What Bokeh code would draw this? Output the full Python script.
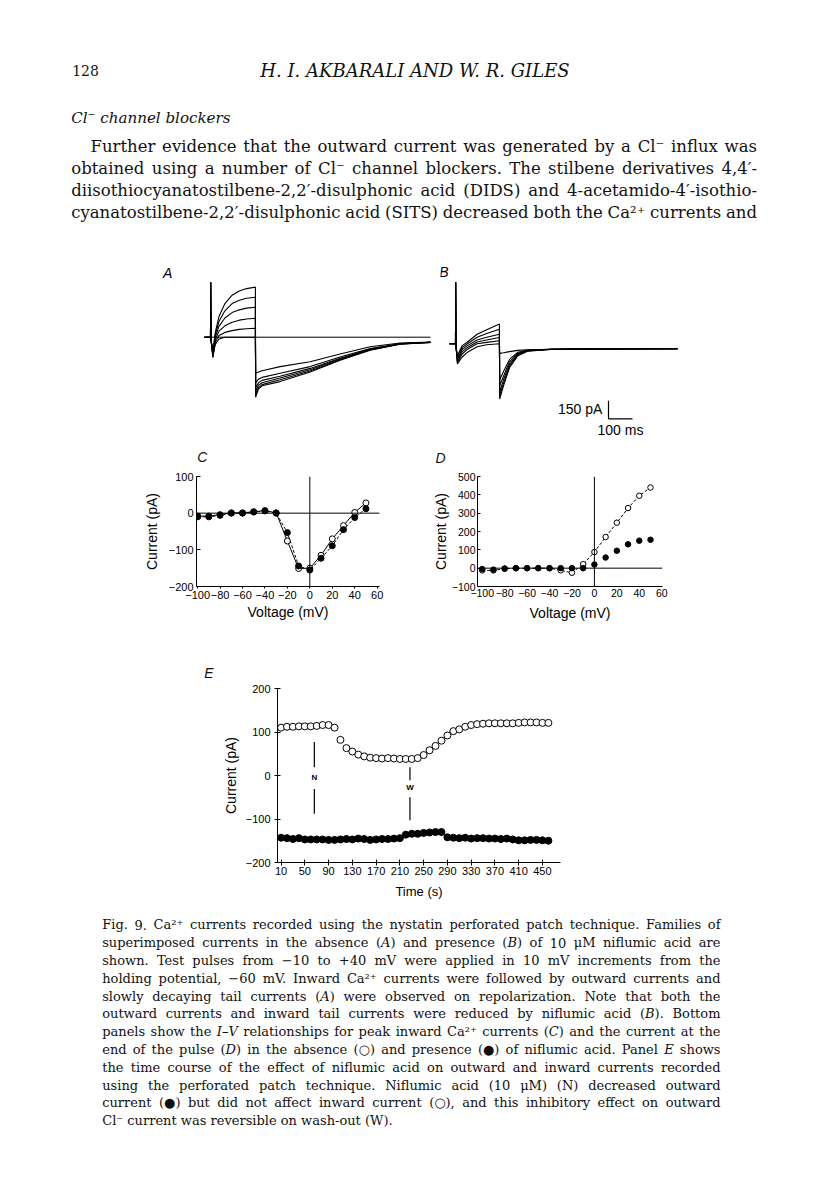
import os
import glob
from bokeh.plotting import figure
from bokeh.layouts import column, row
from bokeh.models import (Range1d, ColumnDataSource, Span, FixedTicker,
                          CustomJSTickFormatter)
from bokeh.core.properties import value
from bokeh.embed import file_html
from bokeh.resources import INLINE

# ============================ DATA ============================
# Panel A (control) traces: time from pulse onset (ms), current (pA); test pulses -10..+40 mV
A_TIME = [-25, 0, 0.5, 2, 10, 20, 35, 60, 90, 120, 150, 187, 188, 200, 215, 290, 415, 540, 665, 790, 917]
A_M10 = [0, 0, 458, -20, -150, -60, -15, 0, 0, 0, 0, 0, -300, -290, -280, -245, -205, -140, -80, -48, -40]
A_0 = [0, 0, 458, -20, -170, -40, 15, 40, 55, 65, 70, 75, -380, -350, -335, -300, -245, -165, -95, -52, -42]
A_P10 = [0, 0, 458, -20, -165, -20, 50, 95, 125, 142, 152, 158, -420, -380, -360, -325, -260, -175, -100, -55, -42]
A_P20 = [0, 0, 458, -20, -150, 0, 90, 160, 205, 228, 242, 250, -450, -400, -380, -340, -272, -182, -104, -56, -43]
A_P30 = [0, 0, 458, -20, -130, 20, 130, 220, 280, 308, 325, 333, -475, -420, -395, -355, -282, -188, -106, -57, -43]
A_P40 = [0, 0, 458, -20, -110, 40, 170, 280, 350, 385, 405, 417, -500, -430, -405, -370, -290, -192, -108, -58, -44]

# Panel B (10 uM niflumic acid) traces
B_TIME = [-25, 0, 0.5, 2, 8, 28, 50, 90, 130, 183, 184, 200, 225, 260, 300, 400, 600, 925]
B_M10 = [0, 0, 513, -20, -167, -110, -70, -25, -8, 0, -80, -75, -65, -55, -50, -45, -42, -40]
B_0 = [0, 0, 513, -20, -155, -85, -45, 0, 12, 25, -300, -230, -130, -70, -52, -45, -42, -40]
B_P10 = [0, 0, 513, -20, -145, -65, -30, 15, 32, 53, -350, -270, -150, -78, -55, -45, -42, -40]
B_P20 = [0, 0, 513, -20, -130, -45, -15, 32, 55, 80, -400, -300, -170, -85, -57, -46, -42, -40]
B_P30 = [0, 0, 513, -20, -115, -30, 0, 55, 85, 122, -430, -330, -185, -92, -60, -46, -42, -40]
B_P40 = [0, 0, 513, -20, -100, -15, 15, 80, 118, 164, -460, -350, -200, -100, -62, -47, -42, -40]

# Scale bar (150 pA, 100 ms) in panel B units
SCALE_T0, SCALE_Y0, SCALE_DT, SCALE_DY = 637.5, -625, 100, 150

# Panels C and D: voltage (mV)
VOLTAGE = [-100, -90, -80, -70, -60, -50, -40, -30, -20, -10, 0, 10, 20, 30, 40, 50]
C_ABSENCE = [-8, -8, -4, 1, 1, 4, 7, 1, -76, -151, -150, -115, -70, -34, 2, 28]
C_PRESENCE = [-10, -10, -6, 0, 0, 3, 6, 0, -53, -144, -155, -123, -89, -45, -12, 12]
D_ABSENCE = [-12, -12, -3, 0, 0, 0, 0, -12, -25, 22, 88, 170, 248, 328, 395, 440]
D_PRESENCE = [-5, -8, -2, 0, 0, 0, 0, 0, 0, 0, 20, 58, 95, 130, 150, 155]
C_XTICKS = [-100, -80, -60, -40, -20, 0, 20, 40, 60]
C_YTICKS = [-200, -100, 0, 100]
D_YTICKS = [-100, 0, 100, 200, 300, 400, 500]

# Panel E: time course (s)
E_TIME = [10, 20, 30, 40, 50, 60, 70, 80, 90, 100, 110, 120, 130, 140, 150, 160, 170, 180,
          190, 200, 210, 220, 230, 240, 250, 260, 270, 280, 290, 300, 310, 320, 330, 340,
          350, 360, 370, 380, 390, 400, 410, 420, 430, 440, 450, 460]
E_OUTWARD = [110, 112, 112, 113, 113, 113, 114, 116, 116, 110, 82, 63, 55, 48, 44, 41, 40, 39,
             40, 39, 38, 38, 38, 40, 47, 58, 68, 80, 92, 102, 106, 112, 116, 118,
             119, 120, 120, 120, 120, 120, 121, 122, 122, 122, 121, 121]
E_INWARD = [-143, -144, -146, -144, -147, -147, -147, -147, -148, -148, -147, -146, -147, -145,
            -146, -148, -147, -146, -146, -145, -144, -136, -134, -134, -132, -131, -130, -130,
            -142, -143, -144, -143, -145, -144, -144, -145, -145, -146, -145, -147, -149, -149,
            -148, -148, -149, -150]
E_XTICKS = [10, 50, 90, 130, 170, 210, 250, 290, 330, 370, 410, 450]
E_YTICKS = [-200, -100, 0, 100, 200]
N_TIME, W_TIME = 66, 227

# ============================ TEXT ============================
PAGE_NUMBER = "128"
RUNNING_HEAD = "H. I. AKBARALI AND W. R. GILES"
SECTION_HEAD = "Cl\u207b channel blockers"
PARAGRAPH = [
    "Further evidence that the outward current was generated by a Cl\u207b influx was",
    "obtained using a number of Cl\u207b channel blockers. The stilbene derivatives 4,4\u2032-",
    "diisothiocyanatostilbene-2,2\u2032-disulphonic acid (DIDS) and 4-acetamido-4\u2032-isothio-",
    "cyanatostilbene-2,2\u2032-disulphonic acid (SITS) decreased both the Ca\u00b2\u207a currents and",
]
CAPTION = [
    "Fig. 9. Ca\u00b2\u207a currents recorded using the nystatin perforated patch technique. Families of",
    "superimposed currents in the absence (*A*) and presence (*B*) of 10 \u03bcM niflumic acid are",
    "shown. Test pulses from \u221210 to +40 mV were applied in 10 mV increments from the",
    "holding potential, \u221260 mV. Inward Ca\u00b2\u207a currents were followed by outward currents and",
    "slowly decaying tail currents (*A*) were observed on repolarization. Note that both the",
    "outward currents and inward tail currents were reduced by niflumic acid (*B*). Bottom",
    "panels show the *I\u2013V* relationships for peak inward Ca\u00b2\u207a currents (*C*) and the current at the",
    "end of the pulse (*D*) in the absence (\u25cb) and presence (\u25cf) of niflumic acid. Panel *E* shows",
    "the time course of the effect of niflumic acid on outward and inward currents recorded",
    "using the perforated patch technique. Niflumic acid (10 \u03bcM) (N) decreased outward",
    "current (\u25cf) but did not affect inward current (\u25cb), and this inhibitory effect on outward",
    "Cl\u207b current was reversible on wash-out (W).",
]

SERIF = "DejaVu Serif"
SANS = "Liberation Sans"
INK = "#111111"

# ------------------------ text measuring ------------------------
def _find(name):
    for base in ("/usr/share/fonts", "/usr/local/share/fonts",
                 os.path.expanduser("~/.fonts"), os.path.expanduser("~/.local/share/fonts")):
        if os.path.isdir(base):
            hits = glob.glob(os.path.join(base, "**", name), recursive=True)
            if hits:
                return hits[0]
    return None

_FONTS = {}
try:
    from PIL import ImageFont
    for key, fname in (("n", "DejaVuSerif.ttf"), ("i", "DejaVuSerif-Italic.ttf")):
        path = _find(fname)
        if path:
            _FONTS[key] = ImageFont.truetype(path, 100)
except Exception:
    pass


def tw(s, size, italic=False):
    f = _FONTS.get("i" if italic else "n")
    if f is not None:
        try:
            return f.getlength(s) * size / 100.0
        except Exception:
            pass
    return len(s) * 0.56 * size


def parse_word(w):
    parts = w.split("*")
    return [(p, i % 2 == 1) for i, p in enumerate(parts) if p]


def fit_size(lines, width, size, indent=0.0, min_gap_em=0.25):
    s = size
    while s > 8:
        ok = True
        for k, line in enumerate(lines):
            words = [parse_word(w) for w in line.split(" ")]
            total = sum(sum(tw(t, s, it) for t, it in segs) for segs in words)
            if total + (len(words) - 1) * min_gap_em * s > width - (indent if k == 0 else 0):
                ok = False
                break
        if ok:
            return s
        s -= 0.25
    return s


def set_block(lines, x_left, x_right, y0, dy, size, indent=0.0, justify_last=False):
    out = []
    for k, line in enumerate(lines):
        words = [parse_word(w) for w in line.split(" ")]
        widths = [sum(tw(t, size, it) for t, it in segs) for segs in words]
        xl = x_left + (indent if k == 0 else 0)
        last = (k == len(lines) - 1) and not justify_last
        if len(words) > 1 and not last:
            gap = (x_right - xl - sum(widths)) / (len(words) - 1)
        else:
            gap = tw(" ", size)
        x = xl
        y = y0 + k * dy
        for segs, w in zip(words, widths):
            xx = x
            for t, it in segs:
                out.append((xx, y, t, it))
                xx += tw(t, size, it)
            x += w + gap
    return out


def add_text(p, items, size, align="left", font=SERIF):
    # items: (page_x, page_y, text, italic); the y axis is page y negated
    for italic in (False, True):
        sel = [a for a in items if a[3] == italic]
        if not sel:
            continue
        src = ColumnDataSource(dict(x=[a[0] for a in sel], y=[-a[1] for a in sel],
                                    text=[a[2] for a in sel]))
        p.text(x="x", y="y", text="text", source=src, text_font=value(font),
               text_font_size=f"{size:.2f}px",
               text_font_style="italic" if italic else "normal",
               text_align=align, text_baseline="middle", text_color=INK)


def page_fig(x_left, x_right, y_top, y_bot):
    w = int(round(x_right - x_left))
    h = int(round(y_bot - y_top))
    p = figure(width=w, height=h, x_range=Range1d(x_left, x_right),
               y_range=Range1d(-y_bot, -y_top), x_axis_location=None, y_axis_location=None,
               toolbar_location=None, output_backend="svg", min_border=0,
               outline_line_color=None)
    p.grid.visible = False
    return p


def bare_fig(w, h, xr, yr):
    p = figure(width=w, height=h, x_range=Range1d(*xr), y_range=Range1d(*yr),
               x_axis_location=None, y_axis_location=None, toolbar_location=None,
               output_backend="svg", min_border=0, outline_line_color=None)
    p.grid.visible = False
    return p


MINUS_JS = "return tick < 0 ? '\\u2212' + Math.abs(tick) : String(tick);"


def style_axes(p, label_size):
    for ax in p.axis:
        ax.axis_line_color = "black"
        ax.axis_line_width = 1
        ax.major_tick_line_color = "black"
        ax.minor_tick_line_color = None
        ax.major_label_text_font = SANS
        ax.major_label_text_font_size = label_size
        ax.major_label_text_color = "black"
        ax.axis_label_text_font = SANS
        ax.axis_label_text_font_size = "14px"
        ax.axis_label_text_font_style = "normal"
        ax.axis_label_text_color = "black"
        ax.formatter = CustomJSTickFormatter(code=MINUS_JS)
    p.grid.visible = False


def letter(p, x, y, t):
    add_text(p, [(x, y, t, True)], 14.0, align="center", font=SANS)

# ============================ TOP TEXT (page y 0..250) ============================
top = page_fig(0, 800, 0, 250)
para_size = fit_size(PARAGRAPH, 756.5 - 70.7, 16.5, indent=19.3)
head_size = max(11.0, min(18.0, 14.0 * 325.6 / tw(RUNNING_HEAD, 14.0, True)))
sect_size = max(11.0, min(18.0, 14.0 * 159.3 / tw(SECTION_HEAD, 14.0, True)))
add_text(top, [(71.7, 70.0, PAGE_NUMBER, False)], 14.0)
add_text(top, [(414.5, 69.5, RUNNING_HEAD, True)], head_size, align="center")
add_text(top, [(70.7, 117.3, SECTION_HEAD, True)], sect_size)
add_text(top, set_block(PARAGRAPH, 70.7, 756.5, 146.0, 21.9, para_size,
                        indent=19.3, justify_last=True), para_size)

# ============================ A & B traces (page y 250..445) ============================
pA = bare_fig(440, 195, (-875.0, 958.3), (-902.5, 722.5))
pA.line(x=[A_TIME[0], A_TIME[-1]], y=[0, 0], line_color="black", line_width=1)
pA.multi_line(xs=[A_TIME] * 6, ys=[A_M10, A_0, A_P10, A_P20, A_P30, A_P40],
              line_color="black", line_width=1.1)
pA.text(x=[-178], y=[537], text=["A"], text_font=value(SANS), text_font_style="italic",
        text_font_size="14px", text_align="center", text_baseline="middle", text_color="black")

pB = bare_fig(360, 195, (-62.5, 1437.5), (-847.5, 777.5))
pB.multi_line(xs=[B_TIME] * 6, ys=[B_M10, B_0, B_P10, B_P20, B_P30, B_P40],
              line_color="black", line_width=1.1)
pB.text(x=[-48.75], y=[602.5], text=["B"], text_font=value(SANS), text_font_style="italic",
        text_font_size="14px", text_align="center", text_baseline="middle", text_color="black")
pB.line(x=[SCALE_T0, SCALE_T0, SCALE_T0 + SCALE_DT],
        y=[SCALE_Y0 + SCALE_DY, SCALE_Y0, SCALE_Y0], line_color="black", line_width=1.2)
pB.text(x=[SCALE_T0 - 26], y=[SCALE_Y0 + 0.55 * SCALE_DY], text=["150 pA"],
        text_font=value(SANS), text_font_size="14px", text_align="right",
        text_baseline="middle", text_color="black")
pB.text(x=[SCALE_T0 + 0.5 * SCALE_DT], y=[SCALE_Y0 - 97], text=["100 ms"],
        text_font=value(SANS), text_font_size="14px", text_align="center",
        text_baseline="middle", text_color="black")

# ============================ C / D letters strip (page y 445..466) ============================
strip = page_fig(0, 800, 445, 466)
letter(strip, 201.7, 456.5, "C")
letter(strip, 440.0, 457.0, "D")

# ============ C and D (page y 466..640); same top/bottom borders (row aligns frames) ============
pC = figure(width=420, height=174, x_range=Range1d(-101, 62.1), y_range=Range1d(-200, 100),
            toolbar_location=None, output_backend="svg", outline_line_color=None,
            min_border_left=196, min_border_right=41, min_border_top=10, min_border_bottom=54)
style_axes(pC, "11px")
pC.xaxis.ticker = FixedTicker(ticks=C_XTICKS)
pC.yaxis.ticker = FixedTicker(ticks=C_YTICKS)
pC.yaxis.major_tick_in = 4
pC.yaxis.major_tick_out = 0
pC.yaxis.major_label_standoff = 3
pC.yaxis.axis_label = "Current (pA)"
pC.yaxis.axis_label_standoff = 6
pC.xaxis.major_tick_in = 0
pC.xaxis.major_tick_out = 2
pC.xaxis.major_label_standoff = 2
pC.xaxis.axis_label = "Voltage (mV)"
pC.xaxis.axis_label_standoff = 2
pC.add_layout(Span(location=0, dimension="width", line_color="black", line_width=1))
pC.add_layout(Span(location=0, dimension="height", line_color="black", line_width=1))
pC.line(VOLTAGE, C_ABSENCE, line_color="black", line_width=1)
pC.line(VOLTAGE, C_PRESENCE, line_color="black", line_width=1, line_dash="3 2")
pC.scatter(VOLTAGE, C_ABSENCE, marker="circle", size=6, fill_color="white",
           line_color="black", line_width=1)
pC.scatter(VOLTAGE, C_PRESENCE, marker="circle", size=6, fill_color="black",
           line_color="black")

pD = figure(width=380, height=174, x_range=Range1d(-104.2, 60.7), y_range=Range1d(-100, 500),
            toolbar_location=None, output_backend="svg", outline_line_color=None,
            min_border_left=57, min_border_right=138, min_border_top=10, min_border_bottom=54)
style_axes(pD, "10.5px")
pD.xaxis.ticker = FixedTicker(ticks=C_XTICKS)
pD.yaxis.ticker = FixedTicker(ticks=D_YTICKS)
pD.yaxis.major_tick_in = 3
pD.yaxis.major_tick_out = 0
pD.yaxis.major_label_standoff = 2
pD.yaxis.axis_label = "Current (pA)"
pD.yaxis.axis_label_standoff = 0
pD.xaxis.major_tick_in = 0
pD.xaxis.major_tick_out = 0
pD.xaxis.major_label_standoff = 2
pD.xaxis.axis_label = "Voltage (mV)"
pD.xaxis.axis_label_standoff = 5
pD.add_layout(Span(location=0, dimension="width", line_color="black", line_width=1))
pD.add_layout(Span(location=0, dimension="height", line_color="black", line_width=1))
pD.line(VOLTAGE, D_ABSENCE, line_color="black", line_width=1, line_dash="3 2")
pD.scatter(VOLTAGE, D_ABSENCE, marker="circle", size=5.5, fill_color="white",
           line_color="black", line_width=1)
pD.scatter(VOLTAGE, D_PRESENCE, marker="circle", size=5.5, fill_color="black",
           line_color="black")

# ============================ E letter strip (page y 640..681) ============================
estrip = page_fig(0, 800, 640, 681)
letter(estrip, 208.3, 672.0, "E")

# ============================ E (page y 681..905) ============================
pE = figure(width=800, height=224, x_range=Range1d(4, 480.4), y_range=Range1d(-200, 200),
            toolbar_location=None, output_backend="svg", outline_line_color=None,
            min_border_left=277, min_border_right=240, min_border_top=7, min_border_bottom=43)
style_axes(pE, "11px")
pE.xaxis.ticker = FixedTicker(ticks=E_XTICKS)
pE.yaxis.ticker = FixedTicker(ticks=E_YTICKS)
for ax in pE.axis:
    ax.major_tick_in = 3
    ax.major_tick_out = 3
pE.yaxis.major_label_standoff = 4
pE.yaxis.axis_label = "Current (pA)"
pE.yaxis.axis_label_standoff = 4
pE.xaxis.major_label_standoff = 1
pE.xaxis.axis_label = "Time (s)"
pE.xaxis.axis_label_text_font_size = "13px"
pE.xaxis.axis_label_standoff = 6
pE.scatter(E_TIME, E_OUTWARD, marker="circle", size=7, fill_color="white",
           line_color="black", line_width=1)
pE.scatter(E_TIME, E_INWARD, marker="circle", size=7, fill_color="black", line_color="black")
pE.segment(x0=[N_TIME, N_TIME, W_TIME, W_TIME], y0=[77, -31, 19, -50],
           x1=[N_TIME, N_TIME, W_TIME, W_TIME], y1=[19, -88, -11, -103],
           line_color="black", line_width=1.2)
pE.text(x=[N_TIME, W_TIME], y=[-5, -27], text=["N", "W"], text_font=value(SANS),
        text_font_style="bold", text_font_size="8px", text_align="center",
        text_baseline="middle", text_color="black")

# ============================ CAPTION (page y 905..1150) ============================
bottom = page_fig(0, 800, 905, 1150)
cap_size = fit_size(CAPTION[:-1], 720 - 101.7, 13.0)
add_text(bottom, set_block(CAPTION, 101.7, 720, 924.3, 17.8, cap_size), cap_size)

layout = column(top, row(pA, pB), strip, row(pC, pD), estrip, row(pE), bottom)
open("out.html", "w").write(file_html(layout, INLINE))
